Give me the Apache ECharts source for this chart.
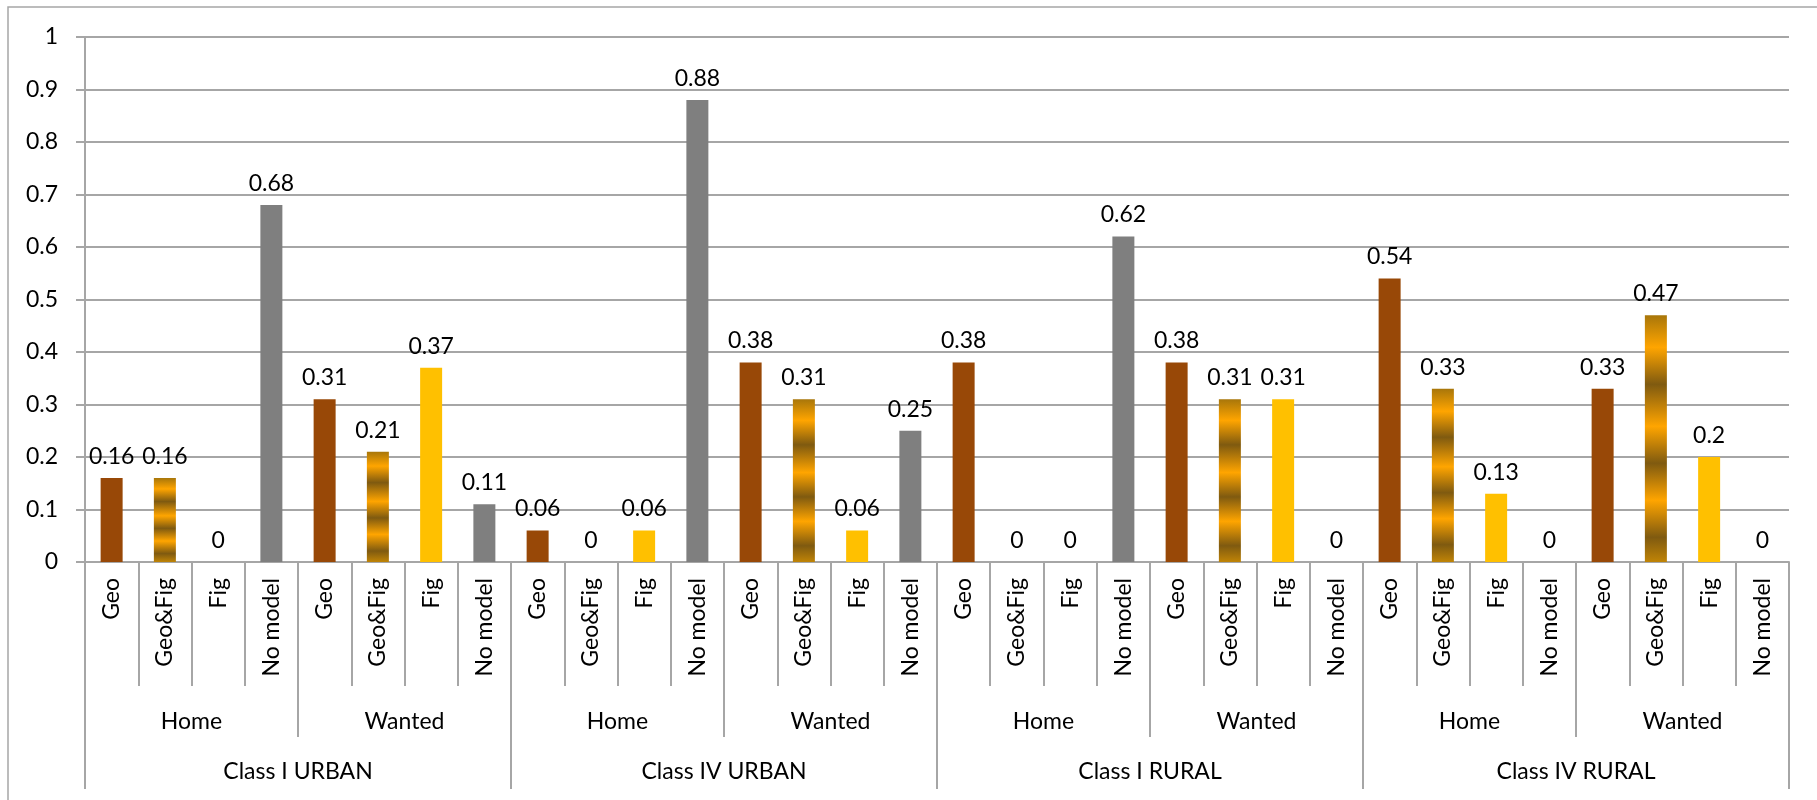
<!DOCTYPE html>
<html>
<head>
<meta charset="utf-8">
<script src="https://cdn.jsdelivr.net/npm/echarts@6/dist/echarts.min.js"></script>
<style>
  html, body { margin: 0; padding: 0; background: #fff; }
  #chart { width: 1817px; height: 800px; }
</style>
</head>
<body>
<div id="chart"></div>
<script>
const models = ['Geo', 'Geo&Fig', 'Fig', 'No model']
const places = ['Home', 'Wanted']
const classes = ['Class I URBAN', 'Class IV URBAN', 'Class I RURAL', 'Class IV RURAL']

// one row per class: Home (4 models) then Wanted (4 models)
const classIUrban = [0.16, 0.16, 0, 0.68, 0.31, 0.21, 0.37, 0.11]
const classIVUrban = [0.06, 0, 0.06, 0.88, 0.38, 0.31, 0.06, 0.25]
const classIRural = [0.38, 0, 0, 0.62, 0.38, 0.31, 0.31, 0]
const classIVRural = [0.54, 0.33, 0.13, 0, 0.33, 0.47, 0.2, 0]

const yTicks = { min: 0, max: 1, interval: 0.1 }

const font = 'Lato'
const gray = '#a6a6a6'

const striped = {
  type: 'linear', x: 0, y: 0, x2: 0, y2: 1,
  colorStops: [
    { offset: 0, color: '#a8760a' },
    { offset: 0.13, color: '#ffa500' },
    { offset: 0.28, color: '#7f5a10' },
    { offset: 0.45, color: '#ffa500' },
    { offset: 0.6, color: '#7f5a10' },
    { offset: 0.75, color: '#ffa500' },
    { offset: 0.9, color: '#7f5a10' },
    { offset: 1, color: '#c08406' }
  ]
}
const modelColors = {
  'Geo': '#984807',
  'Geo&Fig': striped,
  'Fig': '#ffc000',
  'No model': '#7f7f7f'
}

const allValues = [classIUrban, classIVUrban, classIRural, classIVRural].flat()
const catLabels = []
const placeLabels = []
classes.forEach(() => places.forEach(p => {
  placeLabels.push(p)
  models.forEach(m => catLabels.push(m))
}))
const barData = allValues.map((v, i) => ({
  value: v,
  itemStyle: { color: modelColors[catLabels[i]] }
}))

const chart = echarts.init(document.getElementById('chart'))
const txt = { color: '#000', fontFamily: font, fontSize: 23 }

chart.setOption({
  animation: false,
  grid: { left: 85, right: 28, top: 37, bottom: 238 },
  graphic: [{
    type: 'rect',
    shape: { x: 8, y: 7, width: 1840, height: 840 },
    style: { fill: 'none', stroke: gray, lineWidth: 1.5 },
    silent: true
  }],
  xAxis: [
    {
      type: 'category',
      data: catLabels,
      position: 'bottom',
      axisLine: { show: true, lineStyle: { color: gray, width: 2 } },
      axisTick: { show: true, length: 124, interval: 0, lineStyle: { color: gray, width: 2 } },
      axisLabel: { ...txt, rotate: 90, interval: 0, margin: 16 }
    },
    {
      type: 'category',
      data: placeLabels,
      position: 'bottom',
      axisLine: { show: false },
      axisTick: { show: true, length: 175, interval: 0, lineStyle: { color: gray, width: 2 } },
      axisLabel: { ...txt, interval: 0, margin: 148 }
    },
    {
      type: 'category',
      data: classes,
      position: 'bottom',
      axisLine: { show: false },
      axisTick: { show: true, length: 227, interval: 0, lineStyle: { color: gray, width: 2 } },
      axisLabel: { ...txt, interval: 0, margin: 198 }
    }
  ],
  yAxis: {
    type: 'value',
    min: yTicks.min,
    max: yTicks.max,
    interval: yTicks.interval,
    axisLine: { show: true, lineStyle: { color: gray, width: 2 } },
    axisTick: { show: true, length: 9, lineStyle: { color: gray, width: 2 } },
    splitLine: { lineStyle: { color: gray, width: 2 } },
    axisLabel: { ...txt, margin: 27 }
  },
  series: [{
    type: 'bar',
    xAxisIndex: 0,
    data: barData,
    barWidth: 22,
    label: {
      show: true,
      position: 'top',
      distance: 10,
      ...txt
    }
  }]
})
</script>
</body>
</html>
